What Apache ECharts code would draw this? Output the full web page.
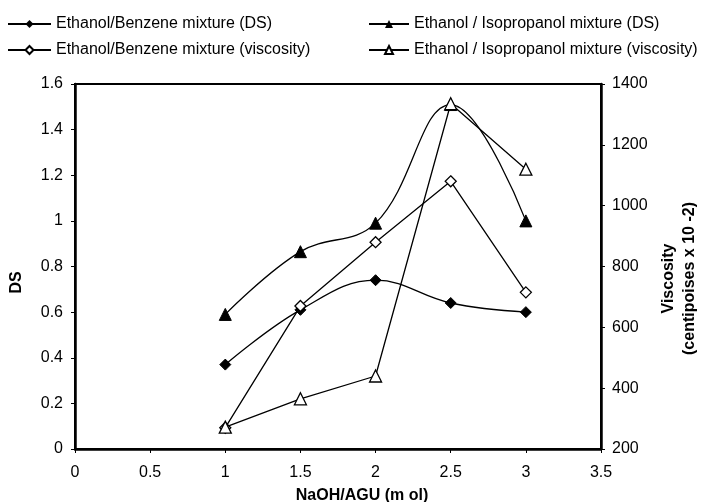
<!DOCTYPE html>
<html>
<head>
<meta charset="utf-8">
<script src="https://cdn.jsdelivr.net/npm/echarts@6/dist/echarts.min.js"></script>
<style>html,body{margin:0;padding:0;background:#fff}#c{width:706px;height:502px}</style>
</head>
<body>
<div id="c"></div>
<script>
var xValues = [1, 1.5, 2, 2.5, 3];
var benzeneDS = [0.37, 0.61, 0.74, 0.64, 0.60];
var isoDS = [0.59, 0.865, 0.99, 1.51, 1.0];
var benzeneVisc = [270, 670, 880, 1080, 715];
var isoVisc = [272, 365, 440, 1335, 1120];
var xTicks = [0, 0.5, 1, 1.5, 2, 2.5, 3, 3.5];
var dsTicks = [0, 0.2, 0.4, 0.6, 0.8, 1, 1.2, 1.4, 1.6];
var viscTicks = [200, 400, 600, 800, 1000, 1200, 1400];

function pairs(ys){ return xValues.map(function(x,i){ return [x, ys[i]]; }); }

var FONT = 'Liberation Sans, Arial, sans-serif';
var chart = echarts.init(document.getElementById('c'), null, {renderer:'canvas'});
var lineStyle = {color:'#000', width:1.3};
var axisTxt = {color:'#000', fontSize:16, fontFamily:FONT};
var legendTxt = {fontSize:16, color:'#000', fontFamily:FONT};
chart.setOption({
  animation:false,
  backgroundColor:'#fff',
  textStyle:{fontFamily:FONT, color:'#000'},
  grid:{left:75, right:105, top:84, bottom:53, show:true, borderColor:'#000', borderWidth:2,
        backgroundColor:'transparent', containLabel:false, outerBoundsMode:'none'},
  legend:[
    {orient:'vertical', left:7, top:16, padding:0, itemGap:10, itemWidth:43, itemHeight:10,
     textStyle:legendTxt,
     data:['Ethanol/Benzene mixture (DS)','Ethanol/Benzene mixture (viscosity)']},
    {orient:'vertical', left:368, top:16, padding:0, itemGap:10, itemWidth:40, itemHeight:10,
     textStyle:legendTxt,
     data:['Ethanol / Isopropanol mixture (DS)','Ethanol / Isopropanol mixture (viscosity)']}
  ],
  xAxis:{type:'value', min:0, max:3.5, interval:0.5,
    name:'NaOH/AGU (m ol)', nameLocation:'middle', nameGap:39,
    nameTextStyle:{fontSize:16, fontWeight:'bold', color:'#000', fontFamily:FONT, padding:[0,0,0,48]},
    axisLine:{show:true, onZero:false, lineStyle:{color:'#000', width:2.5}},
    axisTick:{show:true, length:4, lineStyle:{color:'#000'}},
    axisLabel:Object.assign({margin:16, formatter:function(v){return String(v);}}, axisTxt),
    splitLine:{show:false}},
  yAxis:[
    {type:'value', min:0, max:1.6, interval:0.2, position:'left',
     name:'DS', nameLocation:'middle', nameGap:50, nameRotate:90,
     nameTextStyle:{fontSize:16, fontWeight:'bold', color:'#000', fontFamily:FONT, padding:[0,32,0,0]},
     axisLine:{show:true, lineStyle:{color:'#000', width:2.5}},
     axisTick:{show:true, length:4, lineStyle:{color:'#000'}},
     axisLabel:Object.assign({margin:12, formatter:function(v){return String(Math.round(v*10)/10);}}, axisTxt),
     splitLine:{show:false}},
    {type:'value', min:200, max:1400, interval:200, position:'right',
     name:'Viscosity\n(centipoises x 10 -2)', nameLocation:'middle', nameGap:53, nameRotate:90,
     nameTextStyle:{fontSize:16, fontWeight:'bold', color:'#000', fontFamily:FONT, lineHeight:21, padding:[0,24,0,0]},
     axisLine:{show:true, lineStyle:{color:'#000', width:2.5}},
     axisTick:{show:true, length:4, lineStyle:{color:'#000'}},
     axisLabel:Object.assign({margin:11, formatter:function(v){return String(v);}}, axisTxt),
     splitLine:{show:false}}
  ],
  series:[
    {name:'Ethanol/Benzene mixture (DS)', type:'line', yAxisIndex:0, smooth:0.4,
     data:pairs(benzeneDS), symbol:'diamond', symbolSize:11,
     itemStyle:{color:'#000', borderColor:'#000'}, lineStyle:lineStyle, z:3},
    {name:'Ethanol/Benzene mixture (viscosity)', type:'line', yAxisIndex:1,
     data:pairs(benzeneVisc), symbol:'diamond', symbolSize:11,
     itemStyle:{color:'#fff', borderColor:'#000', borderWidth:1.3}, lineStyle:lineStyle, z:4},
    {name:'Ethanol / Isopropanol mixture (DS)', type:'line', yAxisIndex:0, smooth:0.4,
     data:pairs(isoDS), symbol:'triangle', symbolSize:12,
     itemStyle:{color:'#000', borderColor:'#000'}, lineStyle:lineStyle, z:3},
    {name:'Ethanol / Isopropanol mixture (viscosity)', type:'line', yAxisIndex:1,
     data:pairs(isoVisc), symbol:'triangle', symbolSize:12,
     itemStyle:{color:'#fff', borderColor:'#000', borderWidth:1.3}, lineStyle:lineStyle, z:4}
  ]
});
</script>
</body>
</html>
